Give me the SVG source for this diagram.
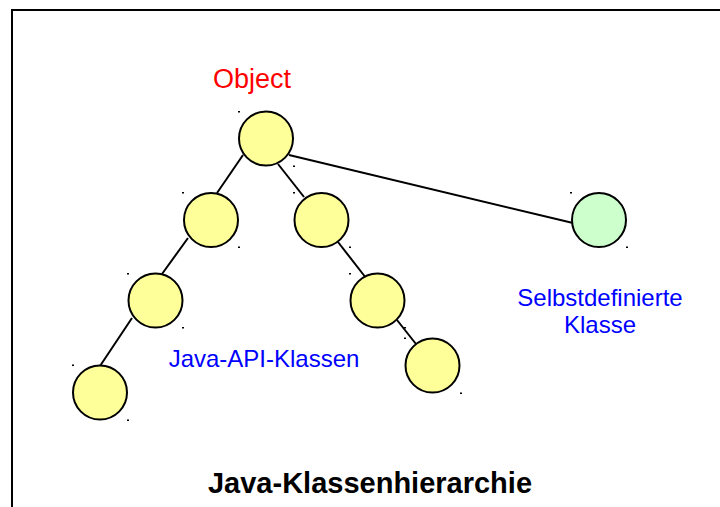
<svg xmlns="http://www.w3.org/2000/svg" width="720" height="507" viewBox="0 0 720 507">
  <style>
    .frame { fill: none; stroke: #000; stroke-width: 2; }
    .edge { stroke: #000; stroke-width: 2; fill: none; }
    .api { fill: #FFFF99; stroke: #000; stroke-width: 2; }
    .own { fill: #CCFFCC; stroke: #000; stroke-width: 2; }
    .mark { fill: #000; }
    .lbl { font-family: "Liberation Sans", Arial, sans-serif; font-size: 24px; }
    .root-lbl { font-family: "Liberation Sans", Arial, sans-serif; font-size: 27px; fill: #FF0000; }
    .blue { fill: #0000FF; }
    .title { font-family: "Liberation Sans", Arial, sans-serif; font-size: 29px; font-weight: bold; fill: #000; }
  </style>
  <rect width="720" height="507" fill="#fff"/>
  <rect class="frame" x="12" y="10" width="740" height="540"/>

  <g id="connectors">
    <line class="edge" x1="243" y1="155" x2="217" y2="193"/>
    <line class="edge" x1="278" y1="164" x2="304" y2="197"/>
    <line class="edge" x1="289" y1="155" x2="573" y2="223"/>
    <line class="edge" x1="188" y1="238" x2="162" y2="274"/>
    <line class="edge" x1="132" y1="318" x2="100" y2="366"/>
    <line class="edge" x1="338" y1="242" x2="366" y2="278"/>
    <line class="edge" x1="397" y1="320" x2="416" y2="344"/>
  </g>

  <g id="node-object">
    <circle class="api" cx="266" cy="138.5" r="27"/>
    <rect class="mark" x="238" y="111" width="2" height="1.5"/>
    <rect class="mark" x="293" y="165.5" width="2" height="1.5"/>
    <text class="root-lbl" x="252" y="88" text-anchor="middle">Object</text>
  </g>
  <g id="node-a">
    <circle class="api" cx="211" cy="220" r="27"/>
    <rect class="mark" x="182" y="192" width="2" height="1.5"/>
    <rect class="mark" x="238" y="246.5" width="2" height="1.5"/>
  </g>
  <g id="node-b">
    <circle class="api" cx="321.5" cy="220" r="27"/>
    <rect class="mark" x="293" y="192" width="2" height="1.5"/>
    <rect class="mark" x="349" y="246.5" width="2" height="1.5"/>
  </g>
  <g id="node-a1">
    <circle class="api" cx="155.5" cy="300.5" r="27"/>
    <rect class="mark" x="127" y="273" width="2" height="1.5"/>
    <rect class="mark" x="182" y="327" width="2" height="1.5"/>
  </g>
  <g id="node-b1">
    <circle class="api" cx="377.5" cy="300.5" r="27"/>
    <rect class="mark" x="349" y="273" width="2" height="1.5"/>
    <rect class="mark" x="404" y="327" width="2" height="1.5"/>
  </g>
  <g id="node-a2">
    <circle class="api" cx="100" cy="392.5" r="27"/>
    <rect class="mark" x="72" y="364.5" width="2" height="1.5"/>
    <rect class="mark" x="127" y="419.5" width="2" height="1.5"/>
  </g>
  <g id="node-b2">
    <circle class="api" cx="432.5" cy="365.5" r="27"/>
    <rect class="mark" x="404" y="337.5" width="2" height="1.5"/>
    <rect class="mark" x="460" y="392.5" width="2" height="1.5"/>
  </g>
  <g id="node-own">
    <circle class="own" cx="599" cy="220" r="27"/>
    <rect class="mark" x="570" y="192" width="2" height="1.5"/>
    <rect class="mark" x="626" y="246.5" width="2" height="1.5"/>
  </g>

  <g id="labels">
    <text class="lbl blue" x="264" y="367" text-anchor="middle">Java-API-Klassen</text>
    <text class="lbl blue" x="600" y="306" text-anchor="middle">Selbstdefinierte</text>
    <text class="lbl blue" x="600" y="333" text-anchor="middle">Klasse</text>
    <text class="title" x="370" y="493" text-anchor="middle">Java-Klassenhierarchie</text>
  </g>
</svg>
